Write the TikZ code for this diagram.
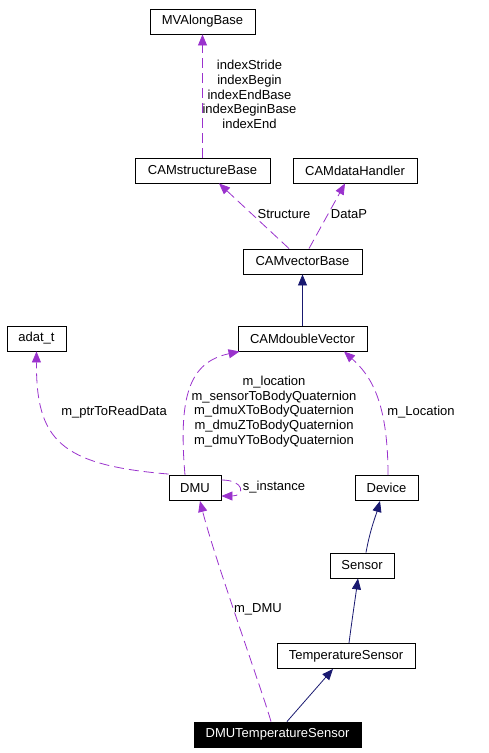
\documentclass[tikz,border=0pt]{standalone}
\usepackage{fontspec}
\setmainfont{Liberation Sans}
\usetikzlibrary{arrows.meta,calc}
\definecolor{depcol}{HTML}{9A32CD}
\definecolor{inhcol}{HTML}{191970}
\begin{document}
\begin{tikzpicture}[x=1pt,y=1pt,yscale=-1,
  font=\fontsize{13}{14.7}\selectfont,
  cls/.style={draw=black,line width=0.9pt,minimum height=25pt,inner sep=0pt,fill=white},
  focus/.style={cls,fill=black,text=white},
  dep/.style={draw=depcol,line width=0.8pt,dash pattern=on 10pt off 5pt,-{Triangle[length=11pt,width=9pt]}},
  inh/.style={draw=inhcol,line width=0.8pt,-{Triangle[length=11pt,width=9pt]}},
  lbl/.style={inner sep=0pt,align=center}]
\useasboundingbox (0,0) rectangle (488,753);
%Shape: Class boxes
\node [cls,minimum width=105pt] (mvalong) at (202.5,21.5) {MVAlongBase};
\node [cls,minimum width=135pt] (structbase) at (202.5,170.5) {CAMstructureBase};
\node [cls,minimum width=124pt] (datahandler) at (355,170.5) {CAMdataHandler};
\node [cls,minimum width=119pt] (vecbase) at (302.5,261.5) {CAMvectorBase};
\node [cls,minimum width=129pt] (dblvec) at (302.5,338.5) {CAMdoubleVector};
\node [cls,minimum width=59pt] (adat) at (36.5,338.5) {adat\_t};
\node [cls,minimum width=52pt] (dmu) at (195,488) {DMU};
\node [cls,minimum width=63pt] (device) at (386.5,488) {Device};
\node [cls,minimum width=64pt] (sensor) at (362,565.5) {Sensor};
\node [cls,minimum width=138pt] (tempsensor) at (346,656) {TemperatureSensor};
\node [focus,minimum width=167pt] (dmutemp) at (277.5,734.5) {DMUTemperatureSensor};
%Connector: members
\draw [dep] (structbase.north) -- (mvalong.south);
\draw [dep] ($(vecbase.north)+(-13.5,0)$) -- ($(structbase.south)+(16.5,0)$);
\draw [dep] ($(vecbase.north)+(6.5,0)$) -- ($(datahandler.south)+(-10,0)$);
\draw [dep] ($(dmu.north)+(-10,0)$) .. controls (178,395) and (190,362) .. ($(dblvec.south west)+(2,0)$);
\draw [dep] ($(dmu.north west)+(0,-1)$) .. controls (60,465) and (36,440) .. (adat.south);
\draw [dep] ($(dmu.east)+(0,-8)$) .. controls (245,480) and (245,496) .. ($(dmu.east)+(0,8)$);
\draw [dep] ($(device.north)+(1.5,0)$) .. controls (388,400) and (370,375) .. ($(dblvec.south)+(41.5,0)$);
\draw [dep] ($(dmutemp.north)+(-6.5,0)$) .. controls (262,690) and (215,560) .. ($(dmu.south)+(5,0)$);
%Connector: inheritance
\draw [inh] (dblvec.north) -- (vecbase.south);
\draw [inh] ($(sensor.north)+(4,0)$) .. controls (370,530) and (376,515) .. ($(device.south)+(-6.5,0)$);
\draw [inh] ($(tempsensor.north)+(3,0)$) .. controls (352,620) and (355,600) .. ($(sensor.south)+(-4,0)$);
\draw [inh] ($(dmutemp.north)+(9.5,0)$) -- ($(tempsensor.south)+(-13,0)$);
% Text Node
\node [lbl] (lblmv) at (249.5,94.5) {indexStride\\indexBegin\\indexEndBase\\indexBeginBase\\indexEnd};
\node [lbl] (lblstruct) at (284,214) {Structure};
\node [lbl] (lbldata) at (349,214) {DataP};
\node [lbl] (lbldmu) at (274,411.5) {m\_location\\m\_sensorToBodyQuaternion\\m\_dmuXToBodyQuaternion\\m\_dmuZToBodyQuaternion\\m\_dmuYToBodyQuaternion};
\node [lbl] (lbladat) at (114,412) {m\_ptrToReadData};
\node [lbl] (lblinst) at (274,487) {s\_instance};
\node [lbl] (lblloc) at (421,412) {m\_Location};
\node [lbl] (lblmdmu) at (258,609) {m\_DMU};
\end{tikzpicture}
\end{document}
